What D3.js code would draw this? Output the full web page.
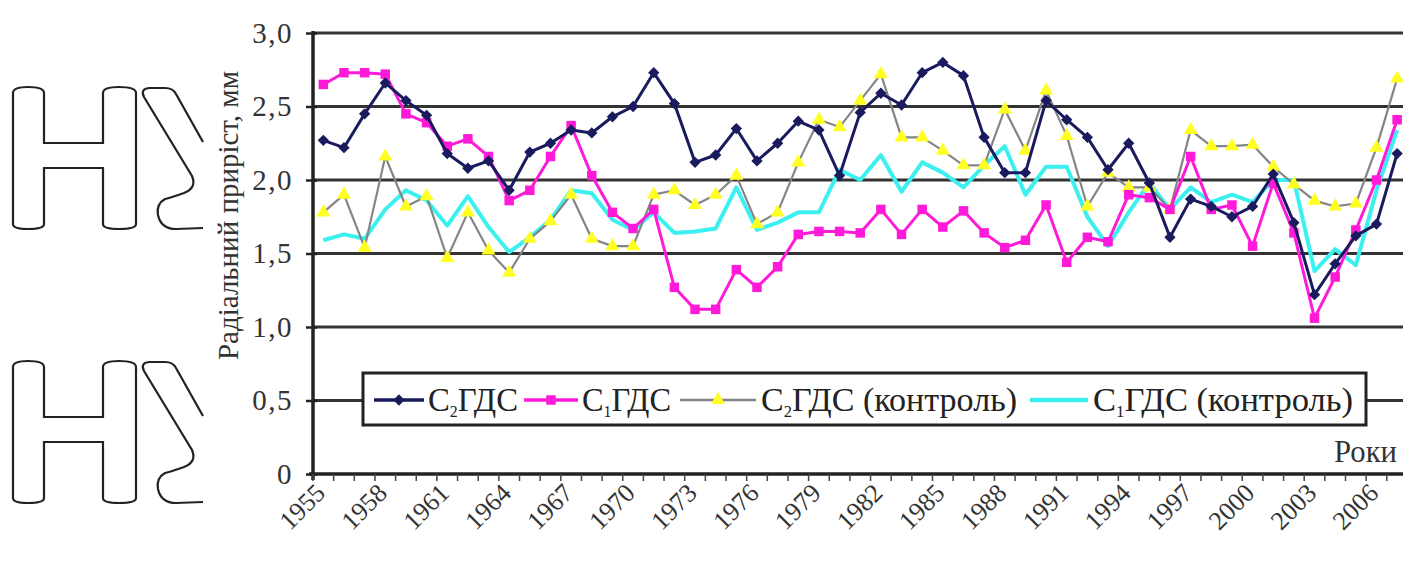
<!DOCTYPE html>
<html>
<head>
<meta charset="utf-8">
<script src="https://cdn.jsdelivr.net/npm/d3@7"></script>
<style>
  html, body { margin: 0; padding: 0; background: #fff; }
  svg { display: block; }
  svg text { font-family: "Liberation Serif", "Times New Roman", Tinos, "DejaVu Serif", serif; }
</style>
</head>
<body>
<svg id="chart" width="1403" height="565"></svg>
<script>
// data ------------------------------------------------------------
const years = [1955, 1956, 1957, 1958, 1959, 1960, 1961, 1962, 1963, 1964,
  1965, 1966, 1967, 1968, 1969, 1970, 1971, 1972, 1973, 1974,
  1975, 1976, 1977, 1978, 1979, 1980, 1981, 1982, 1983, 1984,
  1985, 1986, 1987, 1988, 1989, 1990, 1991, 1992, 1993, 1994,
  1995, 1996, 1997, 1998, 1999, 2000, 2001, 2002, 2003, 2004,
  2005, 2006, 2007];
const tickYears = [1955, 1958, 1961, 1964, 1967, 1970, 1973, 1976, 1979, 1982,
  1985, 1988, 1991, 1994, 1997, 2000, 2003, 2006];
const yTicks = [0, 0.5, 1, 1.5, 2, 2.5, 3];

const c2 = [2.27, 2.22, 2.45, 2.66, 2.54, 2.44, 2.18, 2.08, 2.13, 1.93,
  2.19, 2.25, 2.34, 2.32, 2.43, 2.50, 2.73, 2.52, 2.12, 2.17,
  2.35, 2.13, 2.25, 2.40, 2.34, 2.03, 2.46, 2.59, 2.51, 2.73,
  2.80, 2.71, 2.29, 2.05, 2.05, 2.54, 2.41, 2.29, 2.07, 2.25,
  1.98, 1.61, 1.87, 1.82, 1.75, 1.82, 2.04, 1.71, 1.22, 1.43,
  1.62, 1.70, 2.18];
const c1 = [2.65, 2.73, 2.73, 2.72, 2.45, 2.39, 2.23, 2.28, 2.16, 1.86,
  1.93, 2.16, 2.37, 2.03, 1.78, 1.67, 1.80, 1.27, 1.12, 1.12,
  1.39, 1.27, 1.41, 1.63, 1.65, 1.65, 1.64, 1.80, 1.63, 1.80,
  1.68, 1.79, 1.64, 1.54, 1.59, 1.83, 1.44, 1.61, 1.58, 1.90,
  1.88, 1.80, 2.16, 1.80, 1.83, 1.55, 1.98, 1.64, 1.06, 1.34,
  1.66, 2.00, 2.41];
const c2Control = [1.78, 1.90, 1.54, 2.16, 1.82, 1.89, 1.47, 1.78, 1.52, 1.37,
  1.60, 1.72, 1.90, 1.60, 1.55, 1.55, 1.90, 1.93, 1.83, 1.90,
  2.03, 1.70, 1.78, 2.12, 2.41, 2.36, 2.54, 2.72, 2.29, 2.29,
  2.20, 2.10, 2.10, 2.48, 2.20, 2.61, 2.30, 1.82, 2.05, 1.95,
  1.95, 1.80, 2.34, 2.23, 2.23, 2.24, 2.09, 1.97, 1.86, 1.82,
  1.84, 2.22, 2.69];
const c1Control = [1.59, 1.63, 1.60, 1.80, 1.93, 1.86, 1.69, 1.89, 1.68, 1.51,
  1.61, 1.73, 1.93, 1.91, 1.73, 1.66, 1.78, 1.64, 1.65, 1.67,
  1.95, 1.66, 1.71, 1.78, 1.78, 2.07, 2.00, 2.17, 1.92, 2.12,
  2.05, 1.95, 2.10, 2.23, 1.90, 2.09, 2.09, 1.75, 1.55, 1.78,
  1.98, 1.80, 1.95, 1.85, 1.90, 1.85, 2.00, 2.00, 1.38, 1.53,
  1.42, 1.93, 2.34];

// series, drawn back to front
const series = [
  { key: 'c1c', values: c1Control, line: '#3cf0f0', width: 4, marker: null, sub: '1', name: 'ГДС (контроль)' },
  { key: 'c2c', values: c2Control, line: '#858585', width: 2.2, marker: 'triangle', fill: '#ffff22', sub: '2', name: 'ГДС (контроль)' },
  { key: 'c1', values: c1, line: '#ff1ad9', width: 3, marker: 'square', fill: '#ff1ad9', sub: '1', name: 'ГДС' },
  { key: 'c2', values: c2, line: '#1a1a5e', width: 3, marker: 'diamond', fill: '#1a1a5e', sub: '2', name: 'ГДС' }
];
// legend slots: line start, line end, text start, text width
const legendSlots = {
  c2: [374, 424, 428, 90],
  c1: [524, 578, 582, 89],
  c2c: [680, 756, 761, 256],
  c1c: [1030, 1088, 1093, 260]
};
const legendOrder = ['c2', 'c1', 'c2c', 'c1c'];

// layout ----------------------------------------------------------
const svg = d3.select('#chart');
const plotLeft = 313, plotTop = 33, plotBottom = 474;
const step = 20.65;
const serif = '"Liberation Serif", "Times New Roman", Tinos, "DejaVu Serif", serif';

const x = d3.scaleBand().domain(years).range([plotLeft, plotLeft + step * years.length]).padding(0);
const y = d3.scaleLinear().domain([0, 3]).range([plotBottom, plotTop]);
const cx = d => x(d) + x.bandwidth() / 2;

function symbolPath(type) {
  if (type === 'diamond') return d3.symbol().type(d3.symbolSquare).size(64)();
  if (type === 'square') return d3.symbol().type(d3.symbolSquare).size(90)();
  if (type === 'triangle') return d3.symbol().type(d3.symbolTriangle).size(85)();
  return null;
}

// watermark letters on the left
const wm = svg.append('g').attr('fill', 'none').attr('stroke', '#222').attr('stroke-width', 2.2);
[0, 274].forEach(off => {
  const g = wm.append('g').attr('transform', 'translate(0,' + off + ')');
  g.append('path').attr('d',
    'M13,93 Q13,87 28,87 Q44,87 44,93 L44,143 L103,143 L103,93 Q103,87 119,87 Q136,87 136,93 ' +
    'L136,224 Q136,229 119,229 Q103,229 103,224 L103,168 L44,168 L44,224 Q44,229 28,229 Q13,229 13,224 Z');
  g.append('path').attr('d',
    'M203,142 L176,94 Q173,88 165,88 L149,88 Q140,89 144,97 L192,176 Q197,188 184,193 ' +
    'Q170,198 165,199 Q156,204 158,215 Q161,229 176,229 L203,228');
});

// gridlines
svg.append('g').selectAll('line')
  .data(yTicks.filter(d => d > 0))
  .join('line')
  .attr('x1', plotLeft).attr('x2', 1403)
  .attr('y1', d => y(d)).attr('y2', d => y(d))
  .attr('stroke', '#333').attr('stroke-width', 3);

// y axis
const yAxis = svg.append('g')
  .attr('transform', 'translate(' + plotLeft + ',0)')
  .call(d3.axisLeft(y).tickValues(yTicks).tickSize(7).tickPadding(13)
    .tickFormat(d => d === 0 ? '0' : d3.format('.1f')(d).replace('.', ',')));
yAxis.attr('font-family', serif);
yAxis.select('.domain').remove();
yAxis.selectAll('.tick line').attr('stroke', '#222').attr('stroke-width', 2.5).attr('x2', -7).attr('x1', 4);
yAxis.selectAll('.tick text').attr('font-size', 29).attr('fill', '#333')
  .attr('font-family', serif).attr('letter-spacing', 1.5);
svg.append('line').attr('x1', plotLeft).attr('x2', plotLeft).attr('y1', plotTop - 2).attr('y2', plotBottom + 6)
  .attr('stroke', '#222').attr('stroke-width', 3.5);

svg.append('text')
  .attr('transform', 'translate(238,' + ((plotTop + plotBottom) / 2 - 38) + ') rotate(-90)')
  .attr('text-anchor', 'middle')
  .attr('font-family', serif)
  .attr('font-size', 29).attr('fill', '#333')
  .text('Радіальний приріст, мм');

// x axis
svg.append('line').attr('x1', plotLeft - 4).attr('x2', 1403).attr('y1', plotBottom).attr('y2', plotBottom)
  .attr('stroke', '#222').attr('stroke-width', 3.5);
svg.append('g').selectAll('line')
  .data(years)
  .join('line')
  .attr('x1', d => x(d)).attr('x2', d => x(d))
  .attr('y1', plotBottom).attr('y2', plotBottom + 7)
  .attr('stroke', '#444').attr('stroke-width', 1.5);
svg.append('g').selectAll('text')
  .data(tickYears)
  .join('text')
  .attr('transform', d => 'translate(' + (cx(d) - 3) + ',' + (plotBottom + 14) + ') rotate(-45)')
  .attr('text-anchor', 'end')
  .attr('dy', '0.35em')
  .attr('font-family', serif)
  .attr('font-size', 26).attr('fill', '#333')
  .text(d => d);

svg.append('text').attr('x', 1334).attr('y', 462)
  .attr('font-family', serif)
  .attr('textLength', 63).attr('lengthAdjust', 'spacingAndGlyphs')
  .attr('font-size', 31).attr('fill', '#333').text('Роки');

// lines and markers
const lineGen = d3.line().x((d, i) => cx(years[i])).y(d => y(d));
series.forEach(s => {
  const g = svg.append('g').attr('class', 'series-' + s.key);
  g.append('path').datum(s.values)
    .attr('fill', 'none').attr('stroke', s.line).attr('stroke-width', s.width)
    .attr('stroke-linejoin', 'round')
    .attr('d', lineGen);
  if (s.marker) {
    g.selectAll('path.m')
      .data(s.values)
      .join('path').attr('class', 'm')
      .attr('d', symbolPath(s.marker))
      .attr('transform', (d, i) => 'translate(' + cx(years[i]) + ',' + y(d) + ')' + (s.marker === 'diamond' ? ' rotate(45)' : ''))
      .attr('fill', s.fill);
  }
});

// legend
const lg = svg.append('g');
lg.append('rect').attr('x', 363).attr('y', 373).attr('width', 1003).attr('height', 52)
  .attr('fill', '#fff').attr('stroke', '#222').attr('stroke-width', 3);
legendOrder.forEach(k => {
  const s = series.find(d => d.key === k);
  const [l0, l1, tx, tw] = legendSlots[k];
  const ly = 400;
  const item = lg.append('g');
  item.append('line').attr('x1', l0).attr('x2', l1).attr('y1', ly).attr('y2', ly)
    .attr('stroke', s.line).attr('stroke-width', s.width + 0.5);
  if (s.marker) {
    item.append('path').attr('d', symbolPath(s.marker))
      .attr('transform', 'translate(' + ((l0 + l1) / 2) + ',' + ly + ')' + (s.marker === 'diamond' ? ' rotate(45)' : ''))
      .attr('fill', s.fill);
  }
  const t = item.append('text').attr('x', tx).attr('y', ly + 11)
    .attr('font-family', serif)
    .attr('textLength', tw).attr('lengthAdjust', 'spacingAndGlyphs')
    .attr('font-size', 33).attr('fill', '#222');
  t.append('tspan').text('С');
  t.append('tspan').attr('font-size', 16).attr('dy', 6).text(s.sub);
  t.append('tspan').attr('dy', -6).text(s.name);
});
</script>
</body>
</html>
